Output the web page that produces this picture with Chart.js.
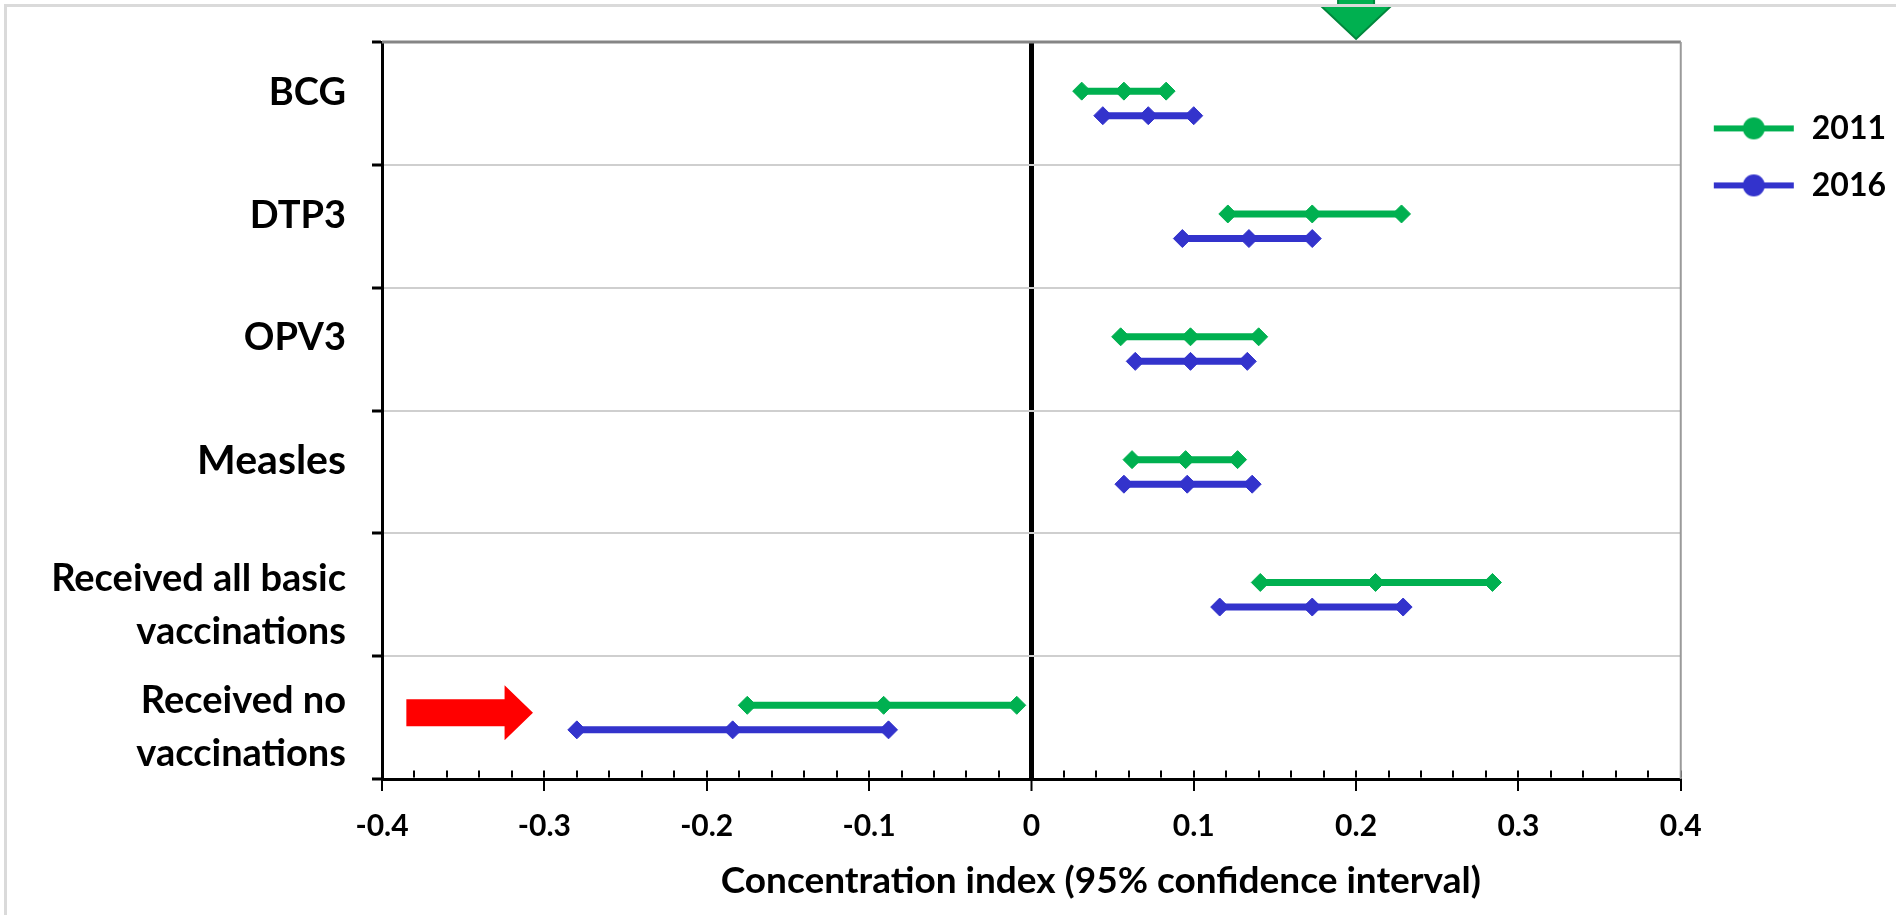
<!DOCTYPE html>
<html>
<head>
<meta charset="utf-8">
<script src="https://cdn.jsdelivr.net/npm/chart.js@4.4.0/dist/chart.umd.min.js"></script>
<style>
  html, body { margin: 0; padding: 0; background: #fff; }
  #wrap { position: relative; width: 1896px; height: 915px; overflow: hidden; }
  #edge { position: absolute; left: 4px; top: 4px; right: 0; bottom: 0;
          border-top: 3px solid #dadada; border-left: 3px solid #dadada; pointer-events: none; }
</style>
</head>
<body>
<div id="wrap">
  <canvas id="chart" width="1896" height="915"></canvas>
  <div id="edge"></div>
</div>
<script>
// categories, top to bottom (one entry per printed line)
const categories = [
  ['BCG'],
  ['DTP3'],
  ['OPV3'],
  ['Measles'],
  ['Received all basic', 'vaccinations'],
  ['Received no', 'vaccinations']
];
const years = ['2011', '2016'];

// concentration index: lower CI, estimate, upper CI
const low2011  = [0.031, 0.121, 0.055, 0.062, 0.141, -0.175];
const est2011  = [0.057, 0.173, 0.098, 0.095, 0.212, -0.091];
const high2011 = [0.083, 0.228, 0.140, 0.127, 0.284, -0.009];

const low2016  = [0.044, 0.093, 0.064, 0.057, 0.116, -0.280];
const est2016  = [0.072, 0.134, 0.098, 0.096, 0.173, -0.184];
const high2016 = [0.100, 0.173, 0.133, 0.136, 0.229, -0.088];

const xTitle = 'Concentration index (95% confidence interval)';

const green = '#00B050';
const blue = '#3333CC';

// build one broken line per year: lo - est - hi, then a gap
function intervalPoints(low, est, high, shift) {
  const pts = [];
  for (let i = 0; i < categories.length; i++) {
    const y = i + shift;
    pts.push({ x: low[i], y: y }, { x: est[i], y: y }, { x: high[i], y: y });
    pts.push({ x: null, y: null });
  }
  return pts;
}

// Excel draws single-line labels a bit high, two-line ones a bit low
const yLabels = categories.map(c => c.length > 1 ? c : [c[0], '']);

const isMajor = v => Math.abs(v * 10 - Math.round(v * 10)) < 1e-6;
const isZero = v => Math.abs(v) < 1e-9;
const fmt = v => isZero(v) ? '0' : (Math.round(v * 10) / 10).toFixed(1);

function legendIcon(color) {
  const c = document.createElement('canvas');
  c.width = 90;
  c.height = 26;
  const g = c.getContext('2d');
  g.strokeStyle = color;
  g.lineWidth = 6;
  g.beginPath();
  g.moveTo(8, 13);
  g.lineTo(88, 13);
  g.stroke();
  g.fillStyle = color;
  g.beginPath();
  g.arc(48, 13, 11, 0, Math.PI * 2);
  g.fill();
  return c;
}

// plot frame and the two block arrows from the slide
const decorations = {
  id: 'decorations',
  beforeDatasetsDraw(chart) {
    const { ctx, chartArea: a } = chart;
    ctx.save();
    ctx.strokeStyle = '#858585';
    ctx.lineWidth = 3;
    ctx.beginPath();
    ctx.moveTo(a.left, a.top);
    ctx.lineTo(a.right, a.top);
    ctx.stroke();
    ctx.strokeStyle = '#9a9a9a';
    ctx.lineWidth = 2;
    ctx.beginPath();
    ctx.moveTo(a.right, a.top);
    ctx.lineTo(a.right, a.bottom);
    ctx.stroke();
    ctx.restore();
  },
  afterDraw(chart) {
    const { ctx, chartArea: a } = chart;
    const xs = chart.scales.x;
    const ys = chart.scales.yv;

    // green arrow pointing down at 0.2
    const gx = xs.getPixelForValue(0.2);
    ctx.save();
    ctx.fillStyle = green;
    ctx.strokeStyle = '#00873C';
    ctx.lineWidth = 2;
    ctx.beginPath();
    ctx.moveTo(gx - 18, -5);
    ctx.lineTo(gx + 18, -5);
    ctx.lineTo(gx + 18, 6);
    ctx.lineTo(gx + 35, 6);
    ctx.lineTo(gx, a.top - 3);
    ctx.lineTo(gx - 35, 6);
    ctx.lineTo(gx - 18, 6);
    ctx.closePath();
    ctx.fill();
    ctx.stroke();

    // red arrow pointing right at "Received no vaccinations"
    const x0 = xs.getPixelForValue(-0.385);
    const x1 = xs.getPixelForValue(-0.3245);
    const x2 = xs.getPixelForValue(-0.307);
    const cy = ys.getPixelForValue(5 - 0.04);
    ctx.fillStyle = '#FF0000';
    ctx.beginPath();
    ctx.moveTo(x0, cy - 13.5);
    ctx.lineTo(x1, cy - 13.5);
    ctx.lineTo(x1, cy - 27.5);
    ctx.lineTo(x2, cy);
    ctx.lineTo(x1, cy + 27.5);
    ctx.lineTo(x1, cy + 13.5);
    ctx.lineTo(x0, cy + 13.5);
    ctx.closePath();
    ctx.fill();
    ctx.restore();
  }
};

function draw() {
  const ctx = document.getElementById('chart').getContext('2d');
  new Chart(ctx, {
    type: 'scatter',
    data: {
      datasets: [
        {
          label: years[0],
          data: intervalPoints(low2011, est2011, high2011, -0.1),
          borderColor: green,
          backgroundColor: green,
          showLine: true,
          spanGaps: false,
          borderWidth: 7,
          pointStyle: 'rectRot',
          pointRadius: 9,
          pointBorderWidth: 1,
          yAxisID: 'yv'
        },
        {
          label: years[1],
          data: intervalPoints(low2016, est2016, high2016, 0.1),
          borderColor: blue,
          backgroundColor: blue,
          showLine: true,
          spanGaps: false,
          borderWidth: 7,
          pointStyle: 'rectRot',
          pointRadius: 9,
          pointBorderWidth: 1,
          yAxisID: 'yv'
        }
      ]
    },
    options: {
      responsive: false,
      animation: false,
      layout: { padding: { top: 42, left: 0, right: 0, bottom: 0 } },
      scales: {
        x: {
          type: 'linear',
          position: 'bottom',
          min: -0.4,
          max: 0.4,
          ticks: {
            stepSize: 0.02,
            autoSkip: false,
            maxRotation: 0,
            padding: 17,
            color: '#000',
            font: { family: 'Lato', weight: 'bold', size: 30 },
            callback: v => isMajor(v) ? fmt(v) : ''
          },
          grid: {
            color: '#000',
            lineWidth: c => (c.tick && isZero(c.tick.value)) ? 5 : 2,
            tickColor: c => (c.tick && isMajor(c.tick.value)) ? '#000' : 'rgba(0,0,0,0)',
            tickWidth: 2,
            tickLength: 12
          },
          border: {
            color: '#000',
            width: 3,
            // minor/major marks inside the plot: only the last few px of each grid line
            dash: c => {
              if (c.type !== 'tick' || isZero(c.tick.value)) return [];
              const a = c.chart.chartArea;
              const h = a.bottom - a.top - 1.5;
              return [0, h - 7, 7, 3000];
            }
          },
          title: {
            display: true,
            // the slide's title sits right of the plot centre
            text: '\u2003\u2003\u2003\u2003\u2003' + xTitle,
            color: '#000',
            font: { family: 'Lato', weight: 'bold', size: 37 },
            padding: { top: 0, bottom: 12 }
          },
          afterFit: s => { s.height = 136; s.paddingLeft = 0; s.paddingRight = 0; }
        },
        y: {
          type: 'category',
          position: 'left',
          labels: yLabels,
          offset: true,
          grid: {
            offset: true,
            color: '#cfcfcf',
            lineWidth: 2,
            tickColor: '#000',
            tickWidth: 3,
            tickLength: 10,
            z: -1
          },
          border: { color: '#000', width: 3 },
          ticks: {
            autoSkip: false,
            padding: 26,
            labelOffset: 10,
            color: '#000',
            font: c => ({
              family: 'Lato',
              weight: 'bold',
              size: c.index === 3 ? 41 : 38,
              lineHeight: categories[c.index] && categories[c.index].length > 1 ? '53px' : '42px'
            })
          },
          afterFit: s => { s.width = 382; s.paddingTop = 0; s.paddingBottom = 0; }
        },
        yv: {
          type: 'linear',
          display: false,
          min: -0.5,
          max: 5.5,
          reverse: true
        }
      },
      plugins: {
        tooltip: { enabled: false },
        legend: {
          position: 'right',
          align: 'start',
          title: { display: true, text: '', padding: { top: 31, bottom: 0 } },
          labels: {
            usePointStyle: true,
            pointStyleWidth: 90,
            padding: 25,
            color: '#000',
            font: { family: 'Lato', weight: 'bold', size: 32 },
            generateLabels: chart => chart.data.datasets.map((ds, i) => ({
              text: ds.label,
              pointStyle: legendIcon(ds.borderColor),
              datasetIndex: i,
              hidden: false,
              lineWidth: 0,
              strokeStyle: 'rgba(0,0,0,0)',
              fillStyle: 'rgba(0,0,0,0)',
              fontColor: '#000'
            }))
          }
        }
      }
    },
    plugins: [decorations]
  });
}

if (document.fonts && document.fonts.load) {
  document.fonts.load('bold 30px Lato').then(draw, draw);
} else {
  draw();
}
</script>
</body>
</html>
